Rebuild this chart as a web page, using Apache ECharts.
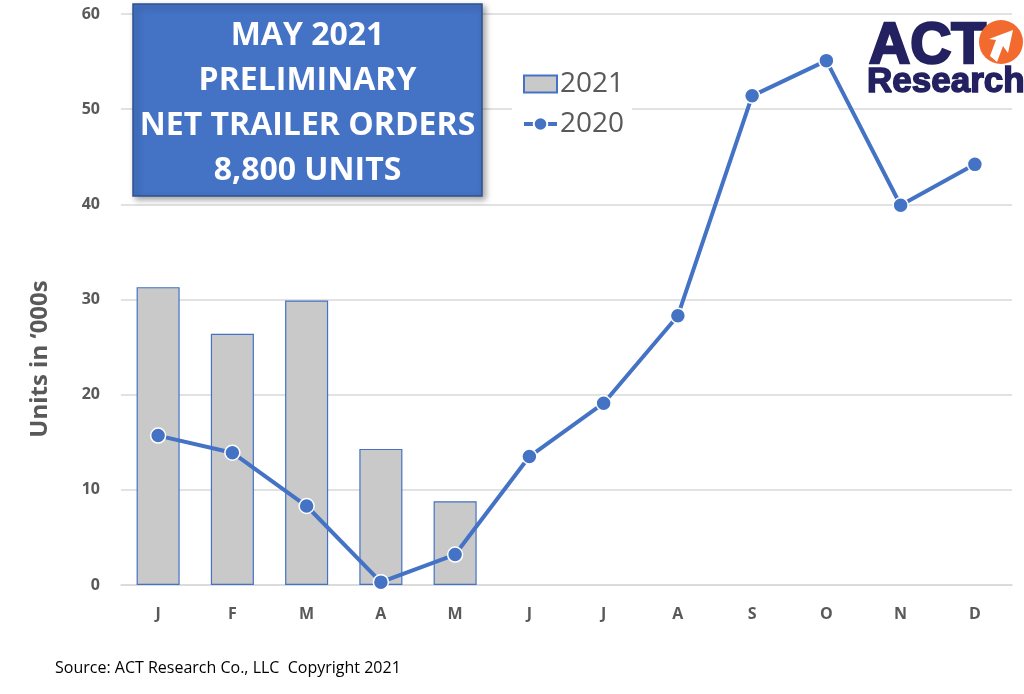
<!DOCTYPE html>
<html>
<head>
<meta charset="utf-8">
<script src="https://cdn.jsdelivr.net/npm/echarts@6/dist/echarts.min.js"></script>
<style>
html,body{margin:0;padding:0;background:#fff;}
#c{width:1024px;height:694px;}
</style>
</head>
<body>
<div id="c"></div>
<script>
const months = ['J','F','M','A','M','J','J','A','S','O','N','D'];
const orders2021 = [31.3, 26.4, 29.9, 14.3, 8.8, null, null, null, null, null, null, null];
const orders2020 = [15.7, 13.9, 8.3, 0.3, 3.2, 13.5, 19.1, 28.3, 51.4, 55.1, 39.9, 44.2];
const yTicks = [0, 10, 20, 30, 40, 50, 60];
const titleLines = ['MAY 2021', 'PRELIMINARY', 'NET TRAILER ORDERS', '8,800 UNITS'];
const yAxisTitle = 'Units in \u2018000s';
const sourceText = 'Source: ACT Research Co., LLC  Copyright 2021';

const chart = echarts.init(document.getElementById('c'));
const gray = '#595959';
const blue = '#4472C4';

chart.setOption({
  animation: false,
  backgroundColor: '#fff',
  grid: { left: 121, right: 12, top: 14, bottom: 109, containLabel: false },
  legend: {
    orient: 'vertical',
    left: 512,
    top: 66,
    itemWidth: 33,
    itemHeight: 17,
    itemGap: 12,
    padding: [4, 8, 4, 10],
    backgroundColor: '#fff',
    textStyle: { fontSize: 28, color: gray, fontFamily: 'Open Sans, sans-serif', padding: [0, 0, 0, -2] },
    lineStyle: { width: 4 },
    data: [
      { name: '2021', icon: 'rect' },
      { name: '2020' }
    ]
  },
  xAxis: {
    type: 'category',
    data: months,
    axisLine: { show: true, lineStyle: { color: '#D9D9D9', width: 1.5 } },
    axisTick: { show: false },
    axisLabel: { fontSize: 16, fontWeight: 'bold', color: gray, margin: 21, fontFamily: 'Open Sans, sans-serif' }
  },
  yAxis: {
    type: 'value',
    min: yTicks[0],
    max: yTicks[yTicks.length - 1],
    interval: 10,
    axisLine: { show: false },
    axisTick: { show: false },
    axisLabel: { fontSize: 16, fontWeight: 'bold', color: gray, margin: 21, fontFamily: 'Open Sans, sans-serif' },
    splitLine: { lineStyle: { color: '#D9D9D9', width: 1.5 } }
  },
  series: [
    {
      name: '2021',
      type: 'bar',
      data: orders2021,
      barCategoryGap: '42%',
      itemStyle: { color: '#C9C9C9', borderColor: blue, borderWidth: 1.2 },
      z: 2
    },
    {
      name: '2020',
      type: 'line',
      data: orders2020,
      symbol: 'circle',
      symbolSize: 15,
      lineStyle: { color: blue, width: 4 },
      itemStyle: { color: blue, borderColor: '#fff', borderWidth: 1.5 },
      z: 3
    }
  ],
  graphic: [
    {
      type: 'text',
      x: 40, y: 359,
      rotation: Math.PI / 2,
      style: { text: yAxisTitle, fill: gray, font: 'bold 24px "Open Sans", sans-serif', align: 'center', verticalAlign: 'middle' },
      z: 11
    },
    {
      type: 'rect',
      shape: { x: 133, y: 4, width: 349, height: 192 },
      style: { fill: blue, stroke: '#2F528F', lineWidth: 1.5, shadowBlur: 6, shadowOffsetX: 3, shadowOffsetY: 3, shadowColor: 'rgba(0,0,0,0.35)' },
      z: 10
    },
    {
      type: 'text',
      x: 307.5, y: 103,
      style: {
        text: titleLines.join('\n'),
        fill: '#fff',
        font: 'bold 32px "Open Sans", sans-serif',
        lineHeight: 45,
        align: 'center',
        verticalAlign: 'middle'
      },
      z: 11
    },
    {
      type: 'text',
      x: 869, y: 47,
      style: { text: 'ACT', fill: '#232160', stroke: '#232160', lineWidth: 2.5, font: 'bold 57px "Liberation Sans", Arial, sans-serif', verticalAlign: 'middle' },
      z: 11
    },
    {
      type: 'text',
      x: 867, y: 82,
      style: { text: 'Research', fill: '#232160', stroke: '#232160', lineWidth: 1.5, font: 'bold 35px "Liberation Sans", Arial, sans-serif', verticalAlign: 'middle' },
      z: 11
    },
    {
      type: 'circle',
      shape: { cx: 1001, cy: 42, r: 22 },
      style: { fill: '#F26A2E' },
      z: 11
    },
    {
      type: 'polygon',
      shape: { points: [[990, 56], [996, 40], [989, 39], [1013, 30], [1008, 53], [1003, 46], [997, 62]] },
      style: { fill: '#fff' },
      z: 12
    },
    {
      type: 'text',
      x: 55, y: 668,
      style: { text: sourceText, fill: '#000', font: '16px "Open Sans", sans-serif', verticalAlign: 'middle' },
      z: 11
    }
  ]
});
</script>
</body>
</html>
